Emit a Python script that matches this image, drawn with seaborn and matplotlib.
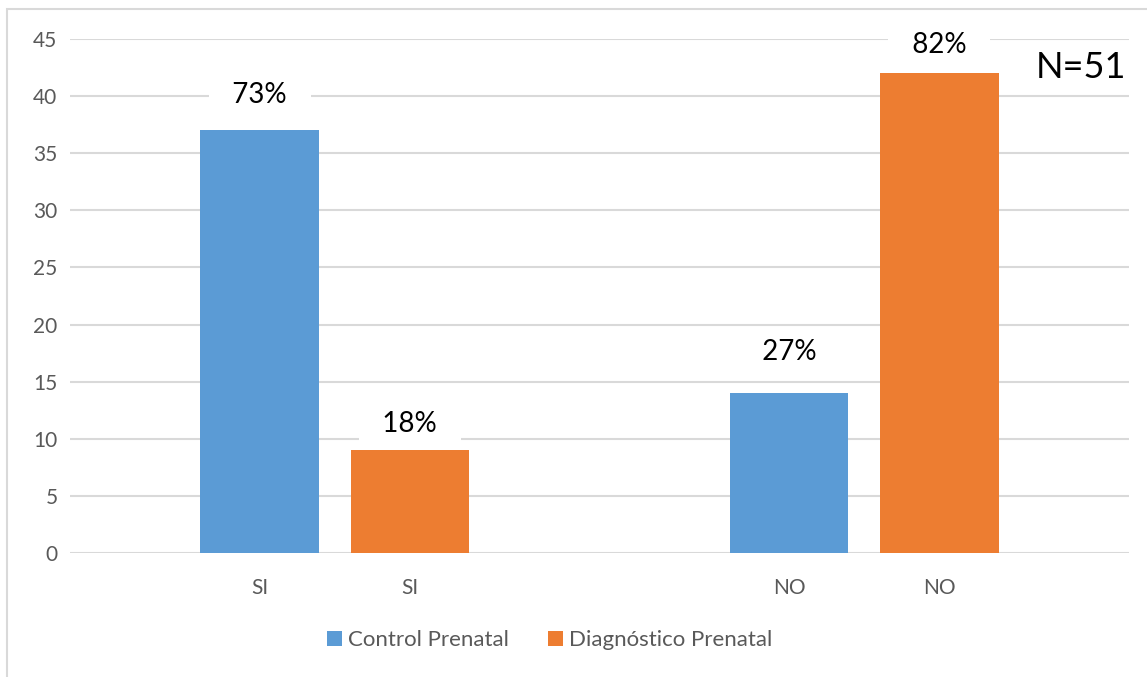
import matplotlib
matplotlib.use("Agg")
import matplotlib.pyplot as plt
from matplotlib.patches import Rectangle, Patch
import seaborn as sns
import pandas as pd

# Data
categories = ["SI", "NO"]
series = ["Control Prenatal", "Diagnóstico Prenatal"]
control_values = [37, 14]
diagnostico_values = [9, 42]
total_n = 51

colors = {"Control Prenatal": "#5B9BD5", "Diagnóstico Prenatal": "#ED7D31"}
grid_color = "#D9D9D9"
text_gray = "#595959"

# distance (points) from each bar top to its label baseline, left to right
label_lift = [19.5, 13, 24, 14.5]

df = pd.DataFrame({
    "respuesta": categories * 2,
    "serie": [series[0]] * len(categories) + [series[1]] * len(categories),
    "valor": control_values + diagnostico_values,
})

sns.set_theme(style="white")
plt.rcParams["font.family"] = ["Lato", "DejaVu Sans"]

W, H = 1147, 677
fig = plt.figure(figsize=(W / 100, H / 100), dpi=100)
ax = fig.add_axes([70 / W, 1 - 553 / H, (1129 - 70) / W, (553 - 39) / H])

sns.barplot(data=df, x="respuesta", y="valor", hue="serie", order=categories,
            hue_order=series, palette=colors, width=0.567, gap=0.21,
            errorbar=None, ax=ax, legend=False, saturation=1)

ax.set_ylim(0, 45)
ax.set_yticks(range(0, 46, 5))
ax.yaxis.grid(True, color=grid_color, linewidth=1.5)
ax.set_axisbelow(True)
for s in ax.spines.values():
    s.set_visible(False)
ax.set_xlabel("")
ax.set_ylabel("")
ax.tick_params(axis="y", length=0, pad=9, labelsize=15, labelcolor=text_gray)
ax.tick_params(axis="x", length=0, pad=18, labelsize=15, labelcolor=text_gray)

# One tick label under each bar, and a percentage label above it
bars = sorted(ax.patches, key=lambda p: p.get_x())
centers, labels = [], []
for bar, lift in zip(bars, label_lift):
    bar.set_edgecolor("none")
    cx = bar.get_x() + bar.get_width() / 2
    h = bar.get_height()
    centers.append(cx)
    labels.append(categories[int(round(cx))])
    pct = round(h / total_n * 100)
    ax.annotate(f"  {pct}%  ", (cx, h), xytext=(0, lift), textcoords="offset points",
                ha="center", va="baseline", fontsize=20, color="black",
                annotation_clip=False, zorder=5,
                bbox=dict(boxstyle="square,pad=0.35", fc="white", ec="none"))
ax.set_xticks(centers)
ax.set_xticklabels(labels)
ax.set_xlim(-0.5, len(categories) - 0.5)

fig.text(1081 / W, 1 - 67 / H, f"N={total_n}", ha="center", va="center",
         fontsize=26, color="black")

handles = [Patch(facecolor=colors[s], edgecolor="none") for s in series]
fig.legend(handles, series, loc="center", bbox_to_anchor=(550 / W, 1 - 640 / H),
           ncol=2, frameon=False, fontsize=16, labelcolor=text_gray,
           handlelength=0.65, handleheight=0.65, handletextpad=0.3,
           columnspacing=1.75)

# Chart area border
fig.patches.append(Rectangle((7 / W, -0.1), 2, 1 - 9 / H + 0.1,
                             transform=fig.transFigure, fill=False,
                             edgecolor=grid_color, linewidth=1.5))

fig.savefig("out.png", dpi=100, facecolor="white")
